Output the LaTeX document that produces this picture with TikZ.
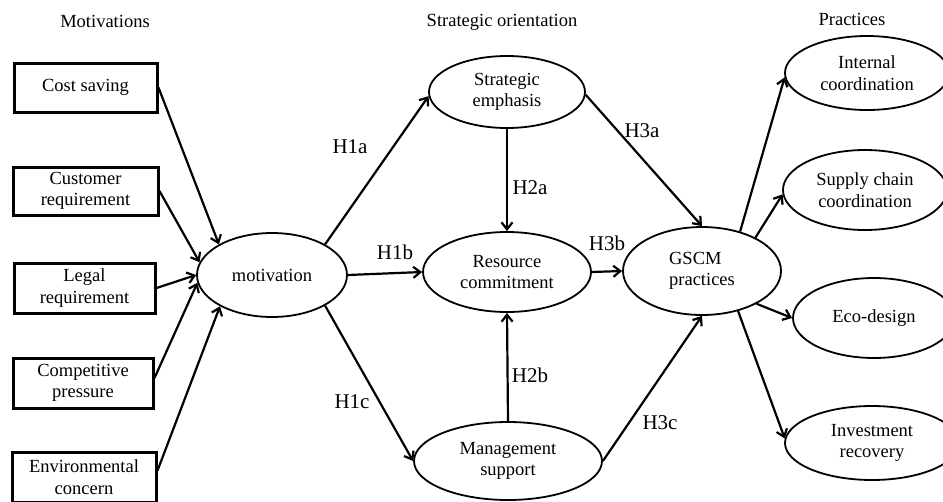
\documentclass[tikz,border=0pt]{standalone}
\usepackage{fontspec}
\setmainfont{Liberation Serif}
\usetikzlibrary{shapes.geometric,arrows.meta}
\begin{document}
\begin{tikzpicture}[x=1pt,y=-1pt,
  txt/.style={font=\fontsize{18.5}{21.5}\selectfont, align=center, inner sep=0pt},
  mbox/.style={txt, draw, line width=3pt, minimum height=49pt},
  oval/.style={txt, ellipse, draw, line width=1.8pt},
  ttl/.style={font=\fontsize{18.5}{21.5}\selectfont, inner sep=0pt, anchor=base},
  hlab/.style={font=\fontsize{21}{24}\selectfont, inner sep=0pt},
  arr/.style={line width=2.2pt, -{Straight Barb[length=7pt,width=11pt]}}
]
\useasboundingbox (0,0) rectangle (943,501);
\clip (0,0) rectangle (943,501);

% titles
\node[ttl] (t1) at (105,27) {Motivations};
\node[ttl] (t2) at (502,26) {Strategic orientation};
\node[ttl] (t3) at (852,25) {Practices};

% motivation boxes
\node[mbox, minimum width=143pt] (cs) at (85.5,87.5) {Cost saving};
\node[mbox, minimum width=145pt, minimum height=48pt] (cr) at (85.5,191) {Customer\\requirement};
\node[mbox, minimum width=141pt, minimum height=50pt] (lr) at (84.5,288) {Legal\\requirement};
\node[mbox, minimum width=140pt, minimum height=50pt] (cp) at (83,383) {Competitive\\pressure};
\node[mbox, minimum width=144pt, minimum height=50pt] (ec) at (84,477) {Environmental\\concern};

% ellipses
\node[oval, minimum width=150pt, minimum height=84pt] (mot) at (272,275) {motivation};
\node[oval, minimum width=156pt, minimum height=72pt] (se) at (507,92) {Strategic\\emphasis};
\node[oval, minimum width=168pt, minimum height=80pt] (rc) at (507,272) {Resource\\commitment};
\node[oval, minimum width=188pt, minimum height=78pt] (ms) at (508,461) {Management\\support};
\node[oval, align=left, minimum width=158pt, minimum height=88pt] (gs) at (702,271) {GSCM\\practices};
\node[oval, minimum width=164pt, minimum height=74pt] (ic) at (867,73) {Internal\\coordination};
\node[oval, minimum width=164pt, minimum height=80pt] (sc) at (865,190) {Supply chain\\coordination};
\node[oval, minimum width=162pt, minimum height=80pt] (ed) at (874,318) {Eco-design};
\node[oval, minimum width=174pt, minimum height=74pt] (ir) at (872,443) {Investment\\recovery};

% motivations -> motivation
\draw[arr] (cs.east) -- (mot.150);
\draw[arr] (cr.east) -- (mot.170);
\draw[arr] (lr.east) -- (mot.180);
\draw[arr] (cp.4) -- (mot.186);
\draw[arr] (ec.5) -- (mot.211);

% strategic orientation
\draw[arr] (mot.30) -- (se.183);
\draw[arr] (mot.east) -- (rc.west);
\draw[arr] (mot.330) -- (ms.180);
\draw[arr] (se.south) -- (rc.north);
\draw[arr] (ms.north) -- (rc.south);
\draw[arr] (se.358) -- (gs.north);
\draw[arr] (rc.east) -- (gs.west);
\draw[arr] (ms.east) -- (gs.south);

% practices
\draw[arr] (gs.46) -- (ic.183);
\draw[arr] (gs.32) -- (sc.183);
\draw[arr] (gs.329) -- (ed.west);
\draw[arr] (gs.312) -- (ir.177);

% hypothesis labels
\node[hlab] (h1a) at (350,147) {H1a};
\node[hlab] (h1b) at (395,252) {H1b};
\node[hlab] (h1c) at (352,402) {H1c};
\node[hlab] (h2a) at (530,188) {H2a};
\node[hlab] (h2b) at (530,375) {H2b};
\node[hlab] (h3a) at (642,131) {H3a};
\node[hlab] (h3b) at (607,243) {H3b};
\node[hlab] (h3c) at (660,423) {H3c};
\end{tikzpicture}
\end{document}
